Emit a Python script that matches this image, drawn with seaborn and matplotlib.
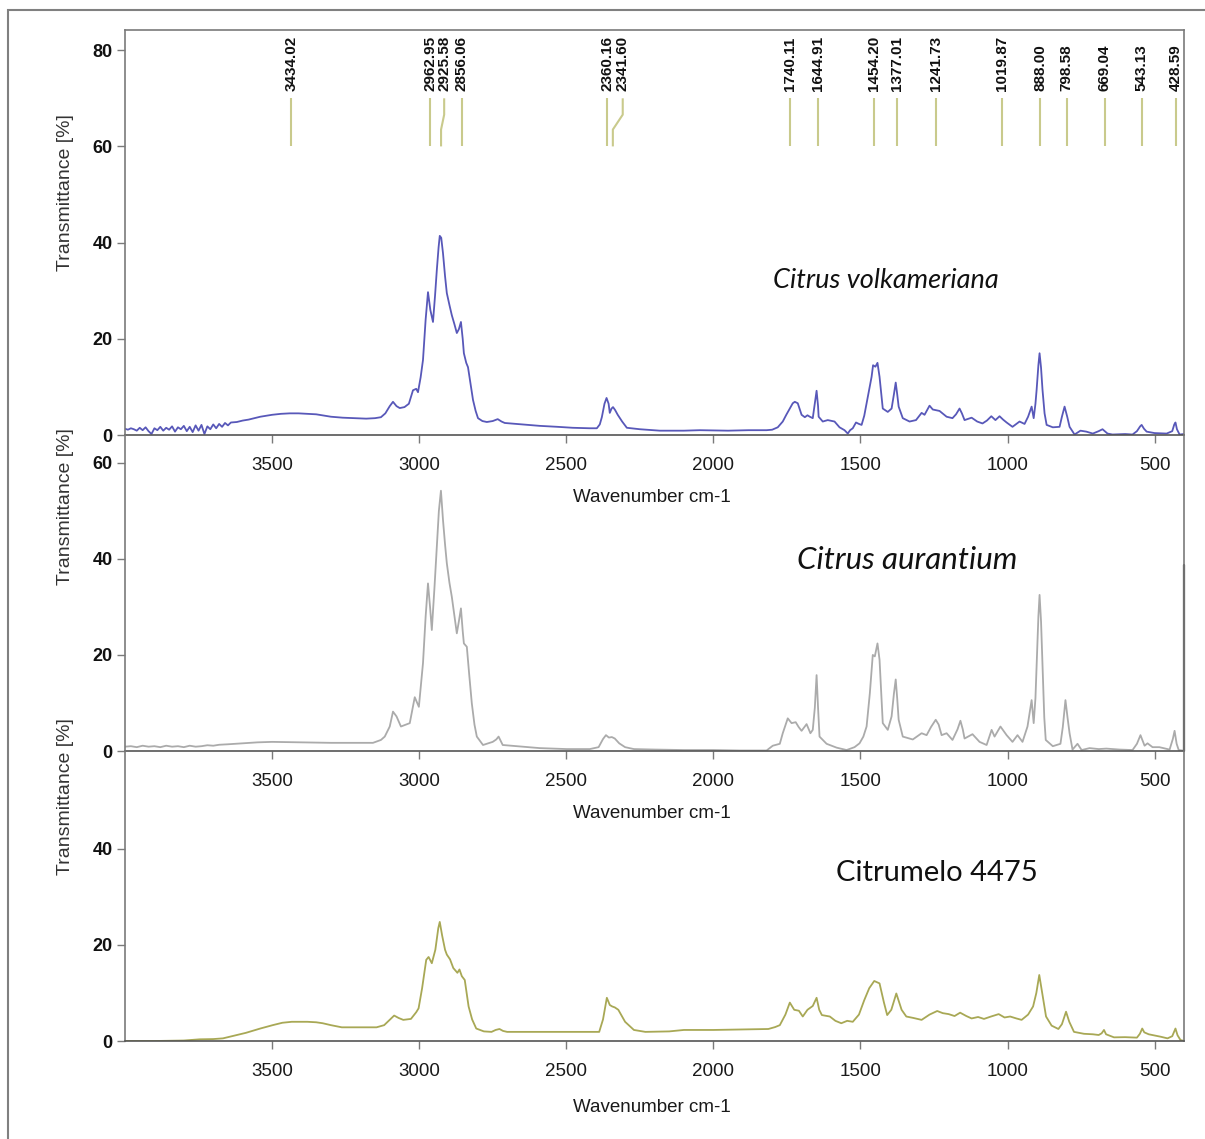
import matplotlib
matplotlib.use("Agg")
import matplotlib.pyplot as plt
import seaborn as sns
import pandas as pd
from matplotlib.patches import Rectangle

# ---------------- data ----------------
volk_wn = [4000, 3990, 3980, 3970, 3960, 3950, 3940, 3930, 3920, 3910, 3900, 3890, 3880, 3870, 3860,
           3850, 3840, 3830, 3820, 3810, 3800, 3790, 3780, 3770, 3760, 3750, 3740, 3730, 3720, 3710,
           3700, 3690, 3680, 3670, 3660, 3650, 3640, 3620, 3600, 3580, 3560, 3540, 3520, 3500, 3470,
           3440, 3410, 3380, 3350, 3320, 3300, 3280, 3260, 3220, 3180, 3150, 3130, 3115, 3100, 3089,
           3077, 3066, 3050, 3035, 3021, 3010, 3004, 2995, 2987, 2978, 2970, 2962, 2953, 2946, 2940,
           2934, 2930, 2925, 2919, 2912, 2906, 2897, 2889, 2880, 2872, 2865, 2858, 2852, 2848, 2840,
           2834, 2825, 2817, 2808, 2800, 2785, 2770, 2750, 2733, 2720, 2709, 2650, 2590, 2530, 2478,
           2420, 2396, 2386, 2379, 2370, 2363, 2356, 2352, 2346, 2341, 2334, 2325, 2310, 2294, 2250,
           2182, 2100, 2046, 1950, 1880, 1819, 1800, 1781, 1764, 1752, 1740, 1730, 1723, 1713, 1700,
           1689, 1680, 1672, 1662, 1655, 1649, 1644, 1642, 1628, 1611, 1588, 1571, 1554, 1543, 1535,
           1526, 1515, 1505, 1496, 1487, 1479, 1470, 1462, 1457, 1449, 1442, 1435, 1428, 1424, 1407,
           1394, 1386, 1380, 1375, 1370, 1356, 1333, 1311, 1292, 1282, 1265, 1254, 1231, 1207, 1187,
           1175, 1163, 1155, 1146, 1122, 1103, 1085, 1070, 1055, 1041, 1027, 1015, 1003, 983, 970,
           959, 942, 930, 918, 911, 905, 901, 895, 891, 886, 881, 874, 867, 846, 823,
           815, 806, 797, 789, 772, 752, 732, 710, 690, 677, 660, 643, 600, 575, 560,
           549, 544, 536, 527, 500, 459, 440, 433, 429, 424, 415, 400]
volk_t = [1.3, 1.1, 1.4, 1.2, 0.9, 1.5, 1.0, 1.6, 0.8, 0.2, 1.4, 1.0, 1.7, 0.9, 1.5,
          1.1, 1.8, 0.7, 1.6, 1.2, 1.9, 0.8, 1.7, 0.6, 2.0, 0.9, 2.1, 0.2, 1.8, 1.2,
          2.2, 1.4, 2.3, 1.7, 2.5, 2.0, 2.6, 2.7, 3.0, 3.2, 3.5, 3.8, 4.0, 4.2, 4.4,
          4.5, 4.5, 4.4, 4.3, 4.0, 3.8, 3.7, 3.6, 3.5, 3.4, 3.5, 3.7, 4.5, 6.0, 6.9,
          6.0, 5.6, 5.8, 6.5, 9.3, 9.6, 8.9, 12.0, 15.6, 24.0, 29.7, 26.0, 23.5, 29.0, 34.3,
          39.0, 41.4, 41.0, 37.8, 33.0, 29.5, 27.0, 24.9, 23.0, 21.2, 22.0, 23.5, 20.0, 17.0, 15.0,
          14.1, 10.5, 7.3, 5.0, 3.5, 2.9, 2.7, 2.9, 3.3, 2.8, 2.5, 2.2, 1.9, 1.7, 1.5,
          1.4, 1.4, 2.2, 3.7, 6.5, 7.7, 6.5, 4.6, 5.5, 5.8, 5.2, 4.2, 2.8, 1.5, 1.2,
          0.9, 0.9, 1.0, 0.9, 1.0, 1.0, 1.1, 1.6, 2.8, 4.2, 5.5, 6.6, 6.9, 6.6, 4.2,
          3.7, 4.1, 3.8, 3.5, 6.5, 9.2, 6.0, 3.8, 2.8, 3.1, 2.8, 1.6, 1.0, 0.3, 1.0,
          1.4, 2.6, 2.3, 2.1, 4.0, 6.6, 9.5, 12.1, 14.5, 14.2, 15.0, 12.1, 8.0, 5.5, 4.8,
          5.5, 8.5, 10.9, 8.5, 5.9, 3.5, 2.8, 3.1, 4.6, 4.2, 6.1, 5.3, 5.0, 3.8, 3.5,
          4.3, 5.5, 4.5, 3.1, 3.6, 2.8, 2.4, 3.0, 3.9, 3.1, 3.9, 3.2, 2.6, 1.7, 2.3,
          2.8, 2.3, 3.8, 5.9, 3.5, 6.5, 9.4, 14.5, 17.0, 14.0, 9.4, 4.5, 2.1, 1.6, 1.7,
          3.8, 5.9, 3.8, 1.7, 0.1, 0.9, 0.7, 0.3, 0.8, 1.2, 0.3, 0.1, 0.2, 0.1, 0.8,
          1.8, 2.1, 1.3, 0.7, 0.4, 0.3, 0.8, 2.2, 2.6, 1.2, 0.1, 0.2]

aur_wn = [4000, 3980, 3960, 3940, 3920, 3900, 3880, 3860, 3840, 3820, 3800, 3780, 3760, 3740, 3720,
          3700, 3680, 3650, 3600, 3550, 3500, 3400, 3300, 3200, 3157, 3130, 3117, 3100, 3089, 3077,
          3062, 3049, 3032, 3022, 3015, 3001, 2995, 2987, 2978, 2970, 2963, 2957, 2948, 2940, 2933,
          2926, 2919, 2912, 2906, 2897, 2889, 2880, 2872, 2865, 2858, 2852, 2848, 2838, 2830, 2821,
          2812, 2804, 2783, 2750, 2738, 2730, 2722, 2716, 2650, 2590, 2498, 2420, 2390, 2375, 2365,
          2355, 2345, 2335, 2320, 2300, 2270, 2200, 2100, 2000, 1910, 1819, 1798, 1774, 1764, 1747,
          1734, 1720, 1710, 1700, 1683, 1670, 1662, 1655, 1649, 1644, 1639, 1615, 1581, 1547, 1520,
          1503, 1490, 1479, 1468, 1458, 1451, 1442, 1435, 1429, 1424, 1407, 1394, 1386, 1380, 1375,
          1370, 1356, 1322, 1292, 1275, 1260, 1244, 1234, 1224, 1207, 1187, 1170, 1160, 1152, 1146,
          1119, 1095, 1071, 1054, 1044, 1024, 1003, 983, 966, 949, 932, 918, 911, 905, 901,
          895, 891, 886, 881, 875, 870, 846, 820, 812, 803, 796, 789, 779, 762, 748,
          721, 690, 664, 620, 575, 560, 548, 534, 524, 507, 484, 449, 438, 432, 425,
          418, 405]
aur_t = [0.9, 1.0, 0.8, 1.1, 0.9, 1.0, 0.8, 1.1, 0.9, 1.0, 0.8, 1.1, 0.9, 1.0, 1.2,
         1.1, 1.3, 1.4, 1.6, 1.8, 1.9, 1.8, 1.7, 1.7, 1.7, 2.3, 3.0, 5.1, 8.2, 7.2,
         5.1, 5.4, 5.8, 9.0, 11.2, 9.2, 13.0, 18.3, 28.0, 34.9, 30.0, 25.2, 34.0, 42.6, 50.0,
         54.2, 48.1, 43.0, 39.1, 35.0, 32.1, 28.0, 24.5, 27.0, 29.7, 25.0, 22.4, 21.7, 16.0, 9.9,
         5.5, 3.0, 1.25, 1.9, 2.4, 3.0, 2.0, 1.25, 0.9, 0.6, 0.4, 0.4, 0.8, 2.5, 3.3,
         2.8, 2.9, 2.6, 1.6, 0.8, 0.4, 0.3, 0.2, 0.2, 0.1, 0.1, 1.1, 1.5, 3.7, 6.8,
         5.8, 6.0, 5.0, 4.2, 5.6, 3.7, 4.4, 9.0, 15.8, 9.0, 3.0, 1.5, 0.7, 0.2, 0.8,
         1.6, 3.0, 5.1, 12.0, 20.0, 19.7, 22.4, 19.0, 12.0, 5.8, 4.4, 7.2, 12.0, 14.9, 11.0,
         6.5, 3.0, 2.4, 3.7, 3.3, 5.0, 6.5, 5.5, 3.3, 3.7, 2.3, 4.5, 6.3, 4.5, 2.6,
         3.5, 1.9, 1.25, 4.4, 3.0, 5.1, 3.3, 1.9, 3.3, 1.9, 5.1, 10.6, 5.8, 11.0, 17.6,
         28.0, 32.5, 27.0, 17.6, 7.0, 2.3, 1.0, 1.5, 5.0, 10.6, 7.0, 3.7, 0.3, 1.5, 0.2,
         0.6, 0.4, 0.5, 0.3, 0.2, 1.5, 3.3, 1.1, 1.6, 0.8, 0.8, 0.3, 2.5, 4.2, 1.5,
         0.2, 0.1]

cit_wn = [4000, 3900, 3800, 3760, 3746, 3700, 3667, 3630, 3589, 3540, 3498, 3465, 3433, 3400, 3380,
          3350, 3328, 3300, 3263, 3200, 3145, 3119, 3100, 3085, 3070, 3054, 3028, 3010, 3002, 2990,
          2976, 2968, 2957, 2945, 2935, 2930, 2922, 2912, 2906, 2895, 2884, 2870, 2863, 2855, 2845,
          2832, 2820, 2806, 2780, 2754, 2740, 2727, 2715, 2701, 2600, 2500, 2420, 2388, 2375, 2362,
          2352, 2344, 2335, 2323, 2300, 2270, 2231, 2150, 2100, 2000, 1900, 1813, 1790, 1774, 1755,
          1740, 1725, 1709, 1696, 1680, 1662, 1649, 1640, 1631, 1604, 1585, 1565, 1545, 1526, 1505,
          1487, 1470, 1453, 1435, 1420, 1409, 1395, 1378, 1360, 1344, 1320, 1292, 1265, 1239, 1220,
          1200, 1180, 1161, 1140, 1122, 1100, 1080, 1056, 1030, 1010, 991, 970, 952, 930, 913,
          902, 892, 882, 869, 850, 827, 815, 801, 790, 774, 740, 710, 690, 680, 672,
          665, 638, 600, 560, 550, 542, 535, 520, 508, 480, 456, 440, 433, 429, 422,
          412, 405]
cit_t = [0.0, 0.0, 0.1, 0.3, 0.35, 0.4, 0.55, 1.1, 1.7, 2.6, 3.3, 3.8, 4.0, 4.0, 4.0,
         3.9, 3.7, 3.3, 2.85, 2.85, 2.85, 3.3, 4.4, 5.3, 4.8, 4.4, 4.6, 6.0, 6.8, 11.0,
         16.9, 17.5, 16.2, 19.0, 23.5, 24.8, 22.0, 19.0, 18.0, 17.0, 15.2, 14.2, 14.9, 13.5, 12.7,
         7.2, 4.5, 2.6, 2.0, 1.9, 2.3, 2.5, 2.1, 1.9, 1.9, 1.9, 1.9, 1.9, 4.5, 9.0,
         7.5, 7.2, 7.0, 6.5, 4.0, 2.3, 1.9, 2.0, 2.3, 2.3, 2.4, 2.5, 2.9, 3.3, 5.5,
         8.0, 6.5, 6.3, 5.1, 6.5, 7.3, 9.0, 6.5, 5.4, 5.1, 4.2, 3.7, 4.2, 4.0, 5.5,
         8.5, 11.0, 12.5, 12.0, 8.0, 5.4, 6.5, 9.9, 6.5, 5.1, 4.8, 4.4, 5.5, 6.25, 5.8,
         5.6, 5.2, 5.9, 5.2, 4.7, 5.0, 4.6, 5.1, 5.6, 4.9, 5.1, 4.7, 4.4, 5.5, 7.2,
         10.0, 13.75, 10.0, 5.1, 3.2, 2.5, 3.5, 6.1, 4.0, 1.9, 1.5, 1.4, 1.25, 1.6, 2.3,
         1.4, 0.76, 0.8, 0.7, 1.5, 2.6, 1.8, 1.4, 1.25, 0.9, 0.55, 1.0, 2.0, 2.6, 1.2,
         0.2, 0.1]

peak_wn = [3434.02, 2962.95, 2925.58, 2856.06, 2360.16, 2341.60, 1740.11, 1644.91, 1454.20,
           1377.01, 1241.73, 1019.87, 888.00, 798.58, 669.04, 543.13, 428.59]
peak_labels = ["3434.02", "2962.95", "2925.58", "2856.06", "2360.16", "2341.60", "1740.11",
               "1644.91", "1454.20", "1377.01", "1241.73", "1019.87", "888.00", "798.58",
               "669.04", "543.13", "428.59"]
# where each label sits (label positions shifted for crowded peaks)
label_wn = [3434.02, 2962.95, 2915.0, 2856.06, 2360.16, 2308.0, 1740.11, 1644.91, 1454.20,
            1377.01, 1241.73, 1019.87, 888.00, 798.58, 669.04, 543.13, 428.59]

xticks = [3500, 3000, 2500, 2000, 1500, 1000, 500]
names = ["Citrus volkameriana", "Citrus aurantium", "Citrumelo 4475"]

# ---------------- figure ----------------
sns.set_theme(style="white")
plt.rcParams["font.family"] = ["Liberation Sans", "DejaVu Sans"]

W, H = 1205, 1139
fig = plt.figure(figsize=(W / 100, H / 100), dpi=100)


def fx(px):
    return px / W


def fy(py):
    return 1 - py / H


L, R = 125, 1184
ax1 = fig.add_axes([fx(L), fy(435), fx(R) - fx(L), fy(30) - fy(435)])
ax2 = fig.add_axes([fx(L), fy(751), fx(R) - fx(L), fy(435) - fy(751)])
ax3 = fig.add_axes([fx(L), fy(1041), fx(R) - fx(L), fy(751) - fy(1041)])

spec = [
    (ax1, volk_wn, volk_t, "#5858b9", (0, 84.2), [0, 20, 40, 60, 80], 497, 193),
    (ax2, aur_wn, aur_t, "#ababab", (0, 65.8), [0, 20, 40, 60], 814, 507),
    (ax3, cit_wn, cit_t, "#a8a855", (0, 60.4), [0, 20, 40], 1107, 797),
]

spine_col = "#7a7a7a"
for ax, wn, t, col, ylim, yt, xlab_y, ylab_y in spec:
    ax.set_facecolor("none")
    df = pd.DataFrame({"wn": wn, "T": t})
    sns.lineplot(data=df, x="wn", y="T", ax=ax, color=col, lw=1.3,
                 estimator=None, sort=False, legend=False)
    ax.set_xlim(4000, 400)
    ax.set_ylim(*ylim)
    ax.set_xticks(xticks)
    ax.set_xticklabels([str(v) for v in xticks], fontsize=13.5, color="#1a1a1a")
    ax.set_yticks(yt)
    ax.set_yticklabels([str(v) for v in yt], fontsize=13, fontweight="bold", color="#111111")
    ax.tick_params(axis="x", bottom=True, direction="out", length=6, width=1,
                   color=spine_col, pad=10)
    ax.tick_params(axis="y", left=True, direction="out", length=6, width=1,
                   color=spine_col, pad=3)
    for s in ax.spines.values():
        s.set_color(spine_col)
        s.set_linewidth(1.2)
    ax.spines["bottom"].set_color("#555555")
    ax.set_xlabel("Wavenumber cm-1", fontsize=13.5, color="#1a1a1a", va="center")
    ax.xaxis.set_label_coords(fx(652), fy(xlab_y), transform=fig.transFigure)
    ax.set_ylabel("Transmittance [%]", fontsize=14, color="#333333", va="center")
    ax.yaxis.set_label_coords(fx(65), fy(ylab_y), transform=fig.transFigure)

ax2.spines["top"].set_visible(False)
ax3.spines["top"].set_visible(False)
# darker lower segment of the middle panel's right frame
ax2.axvline(400, 0, 38.7 / 65.8, color="#3a3a3a", lw=1.6, clip_on=False)

# peak marker lines and labels
for p, lw_, lab in zip(peak_wn, label_wn, peak_labels):
    ax1.plot([p, p, lw_, lw_], [60, 63.5, 66.6, 70], color="#c9ca8c", lw=1.5,
             solid_capstyle="butt")
    ax1.text(lw_, 71.6, lab, rotation=90, ha="center", va="bottom", fontsize=11,
             fontweight="bold", color="#111111")

# sample names
fig.text(fx(886), fy(280), names[0], fontsize=19.5, style="italic", family="Lato",
         ha="center", va="center", color="#111111")
fig.text(fx(907), fy(560), names[1], fontsize=22.5, style="italic", family="Lato",
         ha="center", va="center", color="#111111")
fig.text(fx(937), fy(873), names[2], fontsize=21, family="Lato",
         ha="center", va="center", color="#111111")

# outer frame
fig.add_artist(Rectangle((fx(8), -0.1), 1.2, fy(10) + 0.1, transform=fig.transFigure,
                         fill=False, ec="#808080", lw=1.5))

fig.savefig("out.png", dpi=100)
